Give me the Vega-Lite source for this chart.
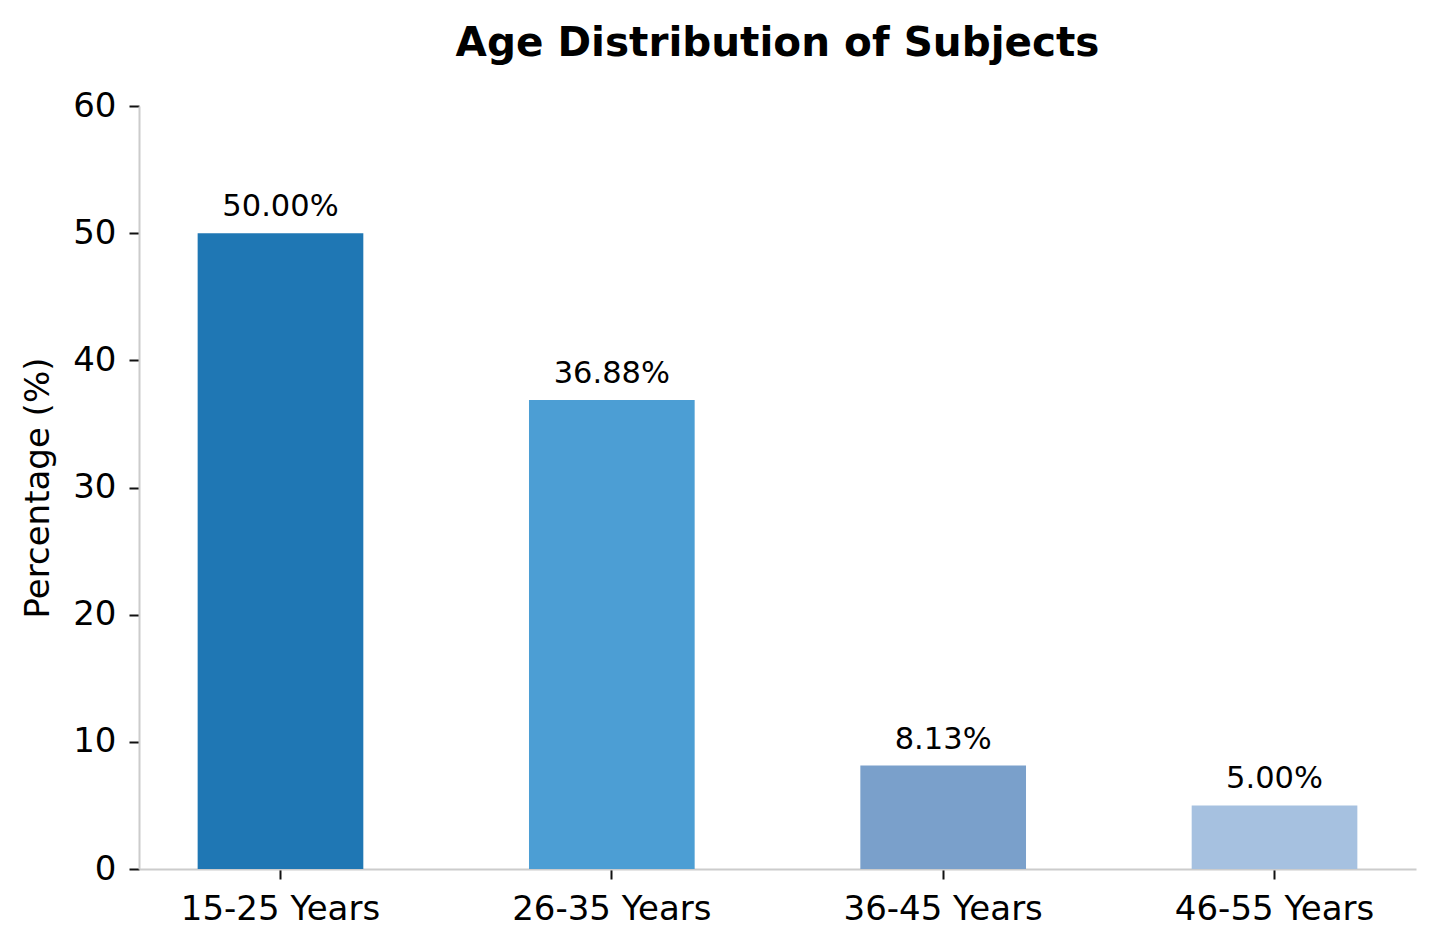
{
  "$schema": "https://vega.github.io/schema/vega-lite/v6.json",
  "autosize": "none",
  "width": 1277,
  "height": 763,
  "padding": {"left": 139, "top": 106, "right": 24, "bottom": 83},
  "background": "white",
  "config": {
    "font": "DejaVu Sans",
    "view": {"stroke": null},
    "axis": {"grid": false}
  },
  "title": {
    "text": "Age Distribution of Subjects",
    "frame": "group",
    "anchor": "middle",
    "baseline": "alphabetic",
    "offset": -7,
    "fontSize": 40.5,
    "fontWeight": "bold",
    "color": "#000000",
    "font": "DejaVu Sans"
  },
  "data": {
    "values": [
      {"age": "15-25 Years", "pct": 50.00, "label": "50.00%"},
      {"age": "26-35 Years", "pct": 36.88, "label": "36.88%"},
      {"age": "36-45 Years", "pct": 8.13, "label": "8.13%"},
      {"age": "46-55 Years", "pct": 5.00, "label": "5.00%"}
    ]
  },
  "encoding": {
    "x": {
      "field": "age",
      "type": "nominal",
      "sort": null,
      "scale": {"paddingInner": 0.5, "paddingOuter": 0.177},
      "axis": {
        "title": null,
        "labelAngle": 0,
        "labelFontSize": 34,
        "labelLimit": 0,
        "labelColor": "#000000",
        "labelPadding": 13,
        "tickSize": 10,
        "tickWidth": 2,
        "tickColor": "#111111",
        "domainColor": "#cccccc",
        "domainWidth": 2
      }
    },
    "y": {
      "field": "pct",
      "type": "quantitative",
      "scale": {"domain": [0, 60], "nice": false},
      "axis": {
        "title": "Percentage (%)",
        "titleFontSize": 34,
        "titleFontWeight": "normal",
        "titleColor": "#000000",
        "titlePadding": 17,
        "values": [0, 10, 20, 30, 40, 50, 60],
        "labelFontSize": 34,
        "labelColor": "#000000",
        "labelPadding": 13,
        "tickSize": 10,
        "tickWidth": 2,
        "tickColor": "#111111",
        "domainColor": "#cccccc",
        "domainWidth": 2
      }
    }
  },
  "layer": [
    {
      "mark": {"type": "bar"},
      "encoding": {
        "color": {
          "field": "age",
          "type": "nominal",
          "sort": null,
          "scale": {"range": ["#1f77b4", "#4c9ed4", "#7aa0cb", "#a6c1e0"]},
          "legend": null
        }
      }
    },
    {
      "mark": {"type": "text", "baseline": "alphabetic", "dy": -17, "fontSize": 30.5, "color": "#000000"},
      "encoding": {"text": {"field": "label"}}
    }
  ]
}
